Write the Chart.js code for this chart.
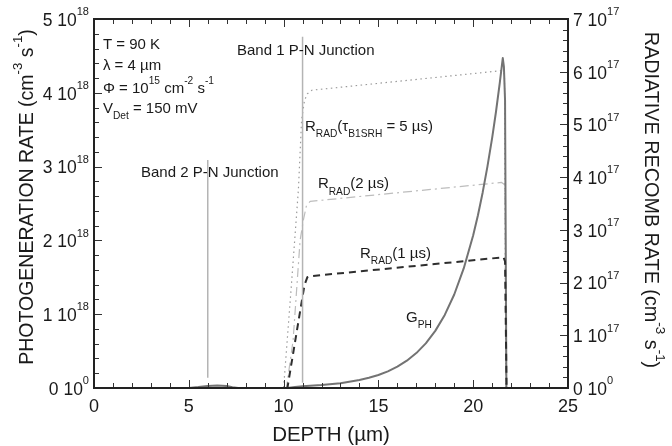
<!DOCTYPE html>
<html><head><meta charset="utf-8">
<script src="https://cdn.jsdelivr.net/npm/chart.js@4/dist/chart.umd.min.js"></script>
<style>html,body{margin:0;padding:0;background:#fff}</style>
</head><body>
<canvas id="c" width="672" height="446"></canvas>
<script>
// ---- DATA (depth in µm; photogeneration in 1e18 cm^-3 s^-1; radiative recomb in 1e17 cm^-3 s^-1)
const gphDepth = [0, 5.0, 5.5, 6.0, 6.5, 7.0, 7.3, 7.6, 10.2, 10.6, 11, 12, 13, 14, 14.5, 15, 15.5, 16, 16.5, 17, 17.5, 18, 18.5, 19, 19.5, 20, 20.25, 20.5, 20.75, 21, 21.2, 21.4, 21.56, 21.62, 21.68, 21.75, 25];
const gphRate  = [0, 0, 0.012, 0.028, 0.035, 0.028, 0.012, 0, 0, 0.012, 0.024, 0.04, 0.065, 0.108, 0.138, 0.176, 0.226, 0.289, 0.37, 0.473, 0.605, 0.774, 0.99, 1.267, 1.62, 2.07, 2.34, 2.65, 3.0, 3.39, 3.74, 4.13, 4.47, 4.35, 3.9, 0, 0];

const r5Depth = [0, 10.0, 10.4, 10.78, 10.95, 11.1, 11.25, 11.5, 21.5, 21.65, 21.72, 25];
const r5Rate  = [0, 0, 1.9, 3.76, 5.09, 5.45, 5.58, 5.65, 6.02, 5.95, 0, 0];

const r2Depth = [0, 10.15, 10.5, 10.87, 11.05, 11.2, 11.4, 21.5, 21.68, 21.74, 25];
const r2Rate  = [0, 0, 0.9, 2.8, 3.2, 3.45, 3.54, 3.9, 3.85, 0, 0];

const r1Depth = [0, 10.2, 10.5, 10.8, 11.1, 11.25, 11.4, 21.6, 21.68, 21.76, 25];
const r1Rate  = [0, 0, 0.65, 1.3, 1.95, 2.1, 2.12, 2.48, 2.4, 0, 0];

const junctionDepth = [6, 11];          // Band 2, Band 1
const junctionBottom = [0.14, 0.07];    // 1e18 units
const junctionTop = [3.09, 4.76];

const xTicks = [0, 5, 10, 15, 20, 25];
const yLeftTicks = [0, 1, 2, 3, 4, 5];      // x 1e18
const yRightTicks = [0, 1, 2, 3, 4, 5, 6, 7]; // x 1e17

// ---- helpers
const FAM = '"Liberation Sans", Arial, Helvetica, sans-serif';
const pts = (xs, ys) => xs.map((x, i) => ({x: x, y: ys[i]}));

function rich(ctx, parts, x, y, size, align, subRatio) {
  const r = subRatio || 0.68;
  const ws = parts.map(p => { ctx.font = (p[1] ? size * r : size) + 'px ' + FAM; return ctx.measureText(p[0]).width; });
  const total = ws.reduce((a, b) => a + b, 0);
  let cx = align === 'right' ? x - total : align === 'center' ? x - total / 2 : x;
  ctx.textBaseline = 'middle'; ctx.textAlign = 'left';
  parts.forEach((p, i) => {
    const s = p[1] ? size * r : size;
    ctx.font = s + 'px ' + FAM;
    const dy = p[1] === 1 ? -size * 0.5 : p[1] === -1 ? size * 0.5 : 0;
    ctx.fillText(p[0], cx, y + dy);
    cx += ws[i];
  });
}

const annotations = [
  {x: 0.47, y: 4.65, parts: [['T = 90 K', 0]]},
  {x: 0.47, y: 4.36, parts: [['\u03BB = 4 \u00B5m', 0]]},
  {x: 0.47, y: 4.05, parts: [['\u03A6 = 10', 0], ['15', 1], [' cm', 0], ['-2', 1], [' s', 0], ['-1', 1]]},
  {x: 0.47, y: 3.78, parts: [['V', 0], ['Det', -1], [' = 150 mV', 0]]},
  {x: 7.54, y: 4.57, parts: [['Band 1 P-N Junction', 0]]},
  {x: 2.48, y: 2.91, parts: [['Band 2 P-N Junction', 0]]},
  {x: 11.13, y: 3.54, parts: [['R', 0], ['RAD', -1], ['(\u03C4', 0], ['B1SRH', -1], [' = 5 \u00B5s)', 0]]},
  {x: 11.81, y: 2.76, parts: [['R', 0], ['RAD', -1], ['(2 \u00B5s)', 0]]},
  {x: 14.03, y: 1.82, parts: [['R', 0], ['RAD', -1], ['(1 \u00B5s)', 0]]},
  {x: 16.46, y: 0.95, parts: [['G', 0], ['PH', -1]]}
];

const decor = {
  id: 'decor',
  afterDatasetsDraw(chart) {
    const ctx = chart.ctx, a = chart.chartArea;
    const sx = chart.scales.x, sy = chart.scales.y, sy2 = chart.scales.y2;
    ctx.save();
    ctx.fillStyle = '#1a1a1a';
    // annotations
    annotations.forEach(an => rich(ctx, an.parts, sx.getPixelForValue(an.x), sy.getPixelForValue(an.y), 15, 'left'));
    // ticks
    ctx.strokeStyle = '#333'; ctx.lineWidth = 1;
    ctx.beginPath();
    for (let v = 0; v <= 25; v += 1) {
      const px = Math.round(sx.getPixelForValue(v)) + 0.5;
      const L = v % 5 === 0 ? 8 : 5;
      ctx.moveTo(px, a.bottom); ctx.lineTo(px, a.bottom - L);
      ctx.moveTo(px, a.top); ctx.lineTo(px, a.top + L);
    }
    for (let i = 0; i <= 25; i++) {
      const py = Math.round(sy.getPixelForValue(i * 0.2)) + 0.5;
      const L = i % 5 === 0 ? 8 : 5;
      ctx.moveTo(a.left, py); ctx.lineTo(a.left + L, py);
    }
    for (let i = 0; i <= 35; i++) {
      const py = Math.round(sy2.getPixelForValue(i * 0.2)) + 0.5;
      const L = i % 5 === 0 ? 8 : 5;
      ctx.moveTo(a.right, py); ctx.lineTo(a.right - L, py);
    }
    ctx.stroke();
    // frame
    ctx.strokeStyle = '#222'; ctx.lineWidth = 2;
    ctx.strokeRect(a.left, a.top, a.right - a.left, a.bottom - a.top);
    // tick labels
    ctx.fillStyle = '#1a1a1a';
    xTicks.forEach(v => { ctx.font = '18px ' + FAM; ctx.textAlign = 'center'; ctx.textBaseline = 'middle'; ctx.fillText(String(v), sx.getPixelForValue(v), a.bottom + 19); });
    yLeftTicks.forEach(v => rich(ctx, [[v + ' 10', 0], [v === 0 ? '0' : '18', 1]], a.left - 5, sy.getPixelForValue(v) + 2, 17.5, 'right', 0.63));
    yRightTicks.forEach(v => rich(ctx, [[v + ' 10', 0], [v === 0 ? '0' : '17', 1]], a.right + 5, sy2.getPixelForValue(v) + 2, 17.5, 'left', 0.63));
    // axis titles
    rich(ctx, [['DEPTH (\u00B5m)', 0]], (a.left + a.right) / 2, a.bottom + 47, 20.5, 'center');
    const tparts = (t) => [[t + ' (cm', 0], ['-3', 1], [' s', 0], ['-1', 1], [')', 0]];
    ctx.save(); ctx.translate(28, 197); ctx.rotate(-Math.PI / 2);
    rich(ctx, tparts('PHOTOGENERATION RATE'), 0, 0, 19.5, 'center'); ctx.restore();
    ctx.save(); ctx.translate(650, 200); ctx.rotate(Math.PI / 2);
    rich(ctx, tparts('RADIATIVE RECOMB RATE'), 0, 0, 19.8, 'center'); ctx.restore();
    ctx.restore();
  }
};

const lineDs = (label, data, axis, color, width, dash) => ({
  label, data, yAxisID: axis, borderColor: color, borderWidth: width, borderDash: dash,
  pointRadius: 0, fill: false, tension: 0, clip: false, borderJoinStyle: 'round'
});

new Chart(document.getElementById('c'), {
  type: 'line',
  data: {
    datasets: [
      lineDs('Band 2 P-N Junction', [{x: junctionDepth[0], y: junctionBottom[0]}, {x: junctionDepth[0], y: junctionTop[0]}], 'y', '#b4b4b4', 1.5, []),
      lineDs('Band 1 P-N Junction', [{x: junctionDepth[1], y: junctionBottom[1]}, {x: junctionDepth[1], y: junctionTop[1]}], 'y', '#b4b4b4', 1.5, []),
      lineDs('R_RAD 1 us', pts(r1Depth, r1Rate), 'y2', '#2e2e2e', 2, [7, 5]),
      lineDs('G_PH', pts(gphDepth, gphRate), 'y', '#737373', 2, []),
      lineDs('R_RAD 2 us', pts(r2Depth, r2Rate), 'y2', '#bdbdbd', 1.2, [9, 4, 2, 4]),
      lineDs('R_RAD 5 us', pts(r5Depth, r5Rate), 'y2', '#9a9a9a', 1.2, [1.5, 3.5])
    ]
  },
  options: {
    responsive: false, animation: false,
    layout: {padding: {left: 94, right: 104, top: 19, bottom: 58}},
    plugins: {legend: {display: false}, tooltip: {enabled: false}},
    scales: {
      x: {type: 'linear', min: 0, max: 25, display: false},
      y: {type: 'linear', position: 'left', min: 0, max: 5, display: false},
      y2: {type: 'linear', position: 'right', min: 0, max: 7, display: false}
    }
  },
  plugins: [decor]
});
</script>
</body></html>
